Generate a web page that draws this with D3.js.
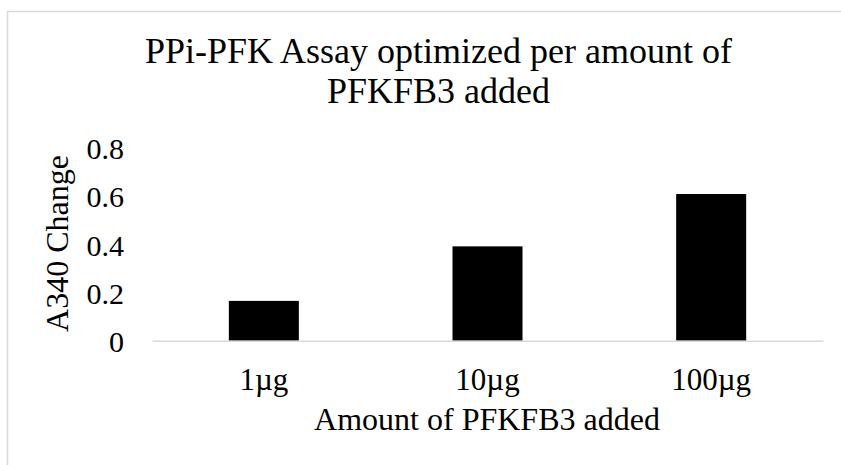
<!DOCTYPE html>
<html>
<head>
<meta charset="utf-8">
<script src="https://cdn.jsdelivr.net/npm/d3@7"></script>
<style>
  html, body { margin: 0; padding: 0; background: #fff; }
  svg { display: block; }
  text { font-family: "Liberation Serif", "Times New Roman", serif; fill: #000; }
</style>
</head>
<body>
<svg id="chart" width="841" height="465"></svg>
<script>
// Chart content
const titleLines = ["PPi-PFK Assay optimized per amount of", "PFKFB3 added"];
const categories = ["1\u00b5g", "10\u00b5g", "100\u00b5g"];
const values = [0.165, 0.391, 0.608];
const yTicks = [0, 0.2, 0.4, 0.6, 0.8];
const yTickLabels = ["0", "0.2", "0.4", "0.6", "0.8"];
const xAxisTitle = "Amount of PFKFB3 added";
const yAxisTitle = "A340 Change";

const svg = d3.select("#chart");

// Chart frame (open to the right and bottom)
svg.append("path")
  .attr("d", "M7.5,466 V11.5 H842")
  .attr("fill", "none")
  .attr("stroke", "#d9d9d9")
  .attr("stroke-width", 1.5);

// Plot area
const plot = { left: 152, right: 823, top: 147.7, bottom: 340.7 };

const x = d3.scaleBand()
  .domain(categories)
  .range([plot.left, plot.right])
  .paddingInner(0.687)
  .paddingOuter(0.3435);

const y = d3.scaleLinear()
  .domain([0, 0.8])
  .range([plot.bottom, plot.top]);

// Title
const title = svg.append("text")
  .attr("text-anchor", "middle")
  .attr("font-size", 36);
titleLines.forEach((line, i) => {
  title.append("tspan")
    .attr("x", 438.5)
    .attr("y", 63 + i * 40)
    .text(line);
});

// Bars
svg.append("g")
  .selectAll("rect")
  .data(values)
  .join("rect")
  .attr("x", (d, i) => x(categories[i]))
  .attr("width", x.bandwidth())
  .attr("y", d => y(d))
  .attr("height", d => y(0) - y(d))
  .attr("fill", "#000");

// Category axis (baseline only, no ticks)
const xAxis = d3.axisBottom(x).tickSize(0).tickPadding(0);
const gx = svg.append("g")
  .attr("transform", `translate(0,${plot.bottom})`)
  .call(xAxis);
gx.select(".domain")
  .attr("stroke", "#d9d9d9")
  .attr("stroke-width", 1.5);
gx.selectAll(".tick text")
  .attr("font-size", 31)
  .attr("font-family", "Liberation Serif, Times New Roman, serif")
  .attr("fill", "#000")
  .attr("dy", null)
  .attr("y", 390 - plot.bottom);

// Value axis (labels only)
const yAxis = d3.axisLeft(y)
  .tickValues(yTicks)
  .tickFormat((d, i) => yTickLabels[i])
  .tickSize(0)
  .tickPadding(0);
const gy = svg.append("g")
  .attr("transform", "translate(124,0)")
  .call(yAxis);
gy.select(".domain").remove();
gy.selectAll(".tick text")
  .attr("font-size", 30)
  .attr("font-family", "Liberation Serif, Times New Roman, serif")
  .attr("fill", "#000")
  .attr("dy", "0.36em");

// Axis titles
svg.append("text")
  .attr("x", 487)
  .attr("y", 430)
  .attr("text-anchor", "middle")
  .attr("font-size", 32)
  .text(xAxisTitle);

svg.append("text")
  .attr("transform", "translate(68,243.5) rotate(-90)")
  .attr("text-anchor", "middle")
  .attr("font-size", 32)
  .text(yAxisTitle);
</script>
</body>
</html>
